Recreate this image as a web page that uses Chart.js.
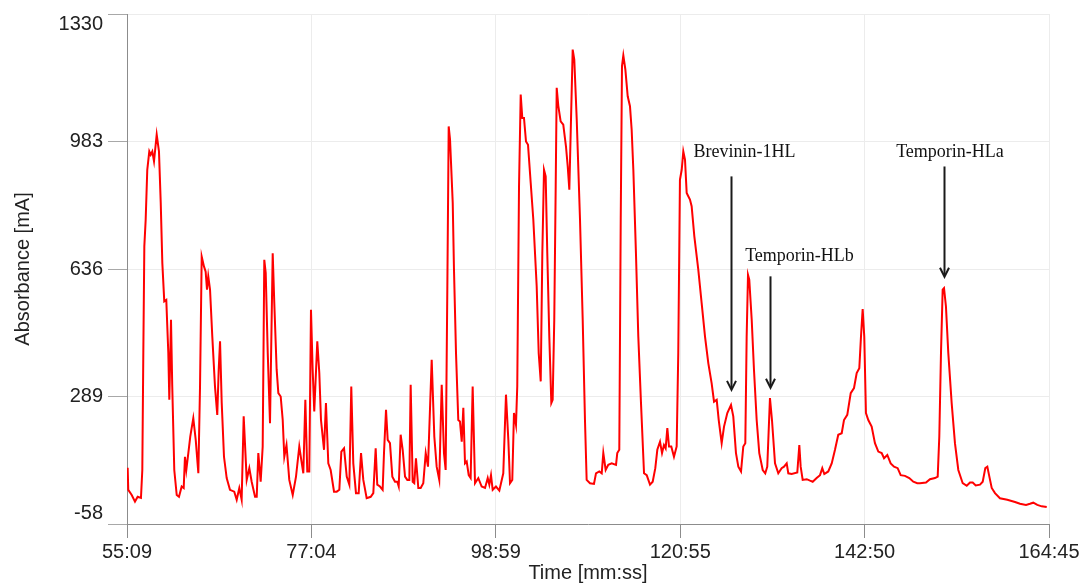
<!DOCTYPE html>
<html>
<head>
<meta charset="utf-8">
<script src="https://cdn.jsdelivr.net/npm/chart.js@4.4.1/dist/chart.umd.min.js"></script>
<style>
  html, body { margin: 0; padding: 0; background: #fff; }
  #wrap { width: 1086px; height: 585px; }
</style>
</head>
<body>
<div id="wrap"><canvas id="chromChart" width="1086" height="585"></canvas></div>
<script>
// retention time in minutes
const timeMin = [
  55.23,55.30,55.71,56.10,56.42,56.81,56.97,57.09,57.21,57.37,
  57.56,57.80,57.97,58.16,58.36,58.68,58.95,59.16,59.35,59.58,
  59.82,60.06,60.18,60.38,60.53,60.77,61.06,61.33,61.65,61.89,
  62.04,62.20,62.44,62.67,63.03,63.32,63.63,63.83,64.03,64.30,
  64.50,64.66,64.81,65.02,65.29,65.61,65.88,66.05,66.21,66.41,
  66.68,67.00,67.39,67.90,68.19,68.50,68.78,69.02,69.38,69.69,
  69.97,70.37,70.57,70.76,71.04,71.28,71.47,71.64,71.88,72.15,
  72.47,72.66,72.94,73.14,73.42,73.66,73.85,74.11,74.44,74.85,
  75.24,75.63,75.87,76.11,76.35,76.58,76.82,77.02,77.22,77.41,
  77.77,78.01,78.21,78.57,78.80,79.08,79.36,79.76,80.08,80.39,
  80.63,80.95,81.27,81.58,81.81,82.05,82.37,82.69,82.97,83.24,
  83.64,84.12,84.43,84.71,84.90,85.22,85.54,85.70,85.94,86.14,
  86.41,86.69,87.01,87.28,87.45,87.68,87.92,88.20,88.47,88.71,
  88.87,89.11,89.30,89.50,89.78,90.06,90.37,90.66,90.93,91.37,
  91.68,91.96,92.27,92.56,92.83,93.03,93.23,93.39,93.55,93.87,
  94.02,94.26,94.53,94.73,94.94,95.13,95.33,95.53,95.77,96.00,
  96.24,96.52,96.91,97.31,97.71,98.03,98.22,98.42,98.62,99.01,
  99.41,99.88,100.20,100.48,100.68,100.95,101.15,101.39,101.54,101.75,
  101.95,102.14,102.34,102.58,102.82,103.14,103.45,103.85,104.09,104.33,
  104.52,104.72,104.92,105.11,105.35,105.59,105.75,105.94,106.11,106.23,
  106.42,106.70,107.01,107.33,107.54,107.73,107.93,108.13,108.32,108.61,
  109.00,109.32,109.59,109.79,110.19,110.66,110.90,111.29,111.58,111.77,
  112.05,112.36,112.77,113.28,113.43,113.67,113.84,113.99,114.15,114.39,
  114.67,114.94,115.14,115.34,115.65,115.93,116.25,116.61,116.93,117.32,
  117.64,117.95,118.19,118.51,118.75,118.98,119.18,119.38,119.58,119.85,
  120.17,120.49,120.68,120.88,121.09,121.28,121.48,121.68,121.87,122.07,
  122.27,122.59,123.06,123.46,123.86,124.25,124.65,124.93,125.25,125.49,
  125.84,126.12,126.51,126.95,127.22,127.54,127.82,128.14,128.41,128.65,
  128.81,128.97,129.12,129.41,129.68,130.00,130.31,130.72,131.02,131.26,
  131.58,131.82,132.18,132.57,132.97,133.25,133.57,133.76,134.16,134.83,
  135.07,135.23,135.47,135.95,136.34,136.66,137.13,137.53,137.80,138.04,
  138.51,138.92,139.31,139.70,140.11,140.38,140.77,141.18,141.57,141.89,
  142.20,142.40,142.60,142.79,142.99,143.27,143.67,144.06,144.46,144.86,
  145.14,145.53,145.93,146.33,146.76,147.12,147.63,148.14,148.62,149.09,
  149.41,150.13,150.60,151.20,151.52,151.71,151.91,152.11,152.27,152.50,
  152.78,153.18,153.57,153.97,154.49,154.97,155.36,155.68,156.04,156.55,
  156.87,157.18,157.42,157.66,157.94,158.33,158.92,159.79,160.71,161.30,
  162.02,162.49,162.88,163.36,163.88,164.48
];

// absorbance in mA
const absorbance = [
  95,35,21,3,16,13,89,408,698,770,
  906,956,947,956,929,1002,956,816,652,548,
  552,408,280,498,316,89,21,16,44,40,
  125,89,135,180,230,171,80,316,670,643,
  629,580,616,580,452,316,239,362,439,271,
  125,67,35,30,8,40,8,235,62,94,
  57,16,16,135,57,153,661,625,407,216,
  679,543,362,298,289,225,125,157,62,21,
  71,153,116,80,280,85,85,525,362,248,
  439,353,225,144,271,107,89,30,30,35,
  139,148,71,49,316,107,26,26,135,62,
  12,16,26,148,49,44,35,135,253,171,
  162,71,57,57,44,185,144,71,62,62,
  321,57,53,121,40,40,53,135,98,389,
  180,98,62,321,135,89,589,1024,988,816,
  634,407,225,221,166,258,107,112,75,67,
  316,53,67,44,40,67,49,75,35,44,
  33,80,294,171,53,62,244,212,316,861,
  1111,1047,1047,983,974,870,770,589,407,330,
  679,906,888,679,452,271,280,498,861,1129,
  1080,1038,1029,970,915,852,1043,1233,1206,1043,
  770,498,225,62,53,51,80,85,80,135,
  89,103,107,103,135,144,770,1188,1217,1179,
  1106,1079,1015,906,679,452,271,80,75,49,
  57,94,144,166,135,157,148,203,153,153,
  125,153,407,879,906,956,934,843,834,825,
  807,725,634,543,452,380,325,275,280,225,
  162,207,244,266,235,135,98,85,153,162,
  452,620,607,498,362,225,135,89,80,98,
  285,225,107,80,94,98,107,80,78,82,
  157,98,62,64,60,57,67,75,94,78,
  85,107,144,185,189,225,239,298,312,353,
  366,452,527,452,244,225,207,162,139,135,
  121,130,107,98,94,75,73,67,57,53,
  53,55,64,67,71,180,407,580,584,534,
  407,271,162,89,53,46,55,55,47,49,
  57,94,98,71,40,26,12,8,2,-3,
  -6,-3,0,-6,-10,-12
];

const xTickLabels = ['55:09', '77:04', '98:59', '120:55', '142:50', '164:45'];
const yTickValues = [-58, 289, 636, 983, 1330];

// peak annotations (time in minutes, levels in mA)
const peakNames = ['Brevinin-1HL', 'Temporin-HLb', 'Temporin-HLa'];
const peakTextTime = [128.55, 135.09, 152.98];
const peakTextLevel = [953, 672, 953];
const arrowTime = [126.91, 131.58, 152.27];
const arrowFrom = [888, 616, 915];
const arrowTo = [307, 313, 615];

const toMinutes = (s) => {
  const [m, sec] = s.split(':').map(Number);
  return m + sec / 60;
};
const fmtTime = (v) => {
  let m = Math.floor(v);
  let s = Math.round((v - m) * 60);
  if (s === 60) { m += 1; s = 0; }
  return m + ':' + String(s).padStart(2, '0');
};

const xTickValues = xTickLabels.map(toMinutes);
const sans = '"Liberation Sans", Arial, sans-serif';
const axisGrey = '#8c8c8c';

// y labels: the end labels sit just inside the plot edges
const yLabelPlugin = {
  id: 'yLabels',
  afterDraw(chart) {
    const { ctx, chartArea, scales } = chart;
    ctx.save();
    ctx.font = '20px ' + sans;
    ctx.fillStyle = '#222';
    ctx.textAlign = 'right';
    ctx.textBaseline = 'middle';
    yTickValues.forEach((v) => {
      let y = scales.y.getPixelForValue(v);
      y = Math.max(chartArea.top + 10, Math.min(chartArea.bottom - 11, y));
      ctx.fillText(String(v), 103, y);
    });
    ctx.restore();
  }
};

const peakPlugin = {
  id: 'peaks',
  afterDatasetsDraw(chart) {
    const { ctx, scales } = chart;
    ctx.save();
    ctx.font = '18px "Liberation Serif", "Times New Roman", serif';
    ctx.fillStyle = '#111';
    ctx.textAlign = 'center';
    ctx.textBaseline = 'middle';
    peakNames.forEach((name, i) => {
      ctx.fillText(name, scales.x.getPixelForValue(peakTextTime[i]), scales.y.getPixelForValue(peakTextLevel[i]));
      const ax = Math.round(scales.x.getPixelForValue(arrowTime[i])) + 0.5;
      const y0 = scales.y.getPixelForValue(arrowFrom[i]);
      const y1 = scales.y.getPixelForValue(arrowTo[i]);
      ctx.strokeStyle = '#1a1a1a';
      ctx.lineWidth = 2;
      ctx.beginPath();
      ctx.moveTo(ax, y0);
      ctx.lineTo(ax, y1 - 1);
      ctx.stroke();
      ctx.beginPath();
      ctx.moveTo(ax - 4.5, y1 - 9);
      ctx.lineTo(ax, y1);
      ctx.lineTo(ax + 4.5, y1 - 9);
      ctx.stroke();
    });
    ctx.restore();
  }
};

new Chart(document.getElementById('chromChart').getContext('2d'), {
  type: 'line',
  data: {
    datasets: [{
      label: 'Absorbance',
      data: timeMin.map((t, i) => ({ x: t, y: absorbance[i] })),
      borderColor: '#ff0000',
      borderWidth: 2,
      pointRadius: 0,
      tension: 0,
      fill: false
    }]
  },
  options: {
    responsive: false,
    animation: false,
    devicePixelRatio: 1,
    layout: { padding: { top: 14, right: 37, left: 0, bottom: 0 } },
    plugins: {
      legend: { display: false },
      tooltip: { enabled: false }
    },
    scales: {
      x: {
        type: 'linear',
        min: xTickValues[0],
        max: xTickValues[xTickValues.length - 1],
        afterBuildTicks: (s) => { s.ticks = xTickValues.map((v) => ({ value: v })); },
        afterFit: (s) => { s.height = 61; },
        grid: { color: '#ececec', tickColor: axisGrey, tickLength: 14 },
        border: { color: axisGrey },
        ticks: {
          callback: (v) => fmtTime(v),
          font: { family: sans, size: 20 },
          color: '#222',
          padding: 2,
          maxRotation: 0,
          autoSkip: false
        },
        title: {
          display: true,
          text: 'Time [mm:ss]',
          font: { family: sans, size: 20 },
          color: '#222',
          padding: { top: 0, bottom: 0 }
        }
      },
      y: {
        min: -58,
        max: 1330,
        afterBuildTicks: (s) => { s.ticks = yTickValues.map((v) => ({ value: v })); },
        afterFit: (s) => { s.width = 127; },
        grid: { color: '#ececec', tickColor: '#a8a8a8', tickLength: 19 },
        border: { color: axisGrey },
        ticks: { display: false },
        title: {
          display: true,
          text: 'Absorbance [mA]',
          font: { family: sans, size: 20 },
          color: '#222',
          padding: { top: 11, bottom: 0 }
        }
      }
    }
  },
  plugins: [yLabelPlugin, peakPlugin]
});
</script>
</body>
</html>
